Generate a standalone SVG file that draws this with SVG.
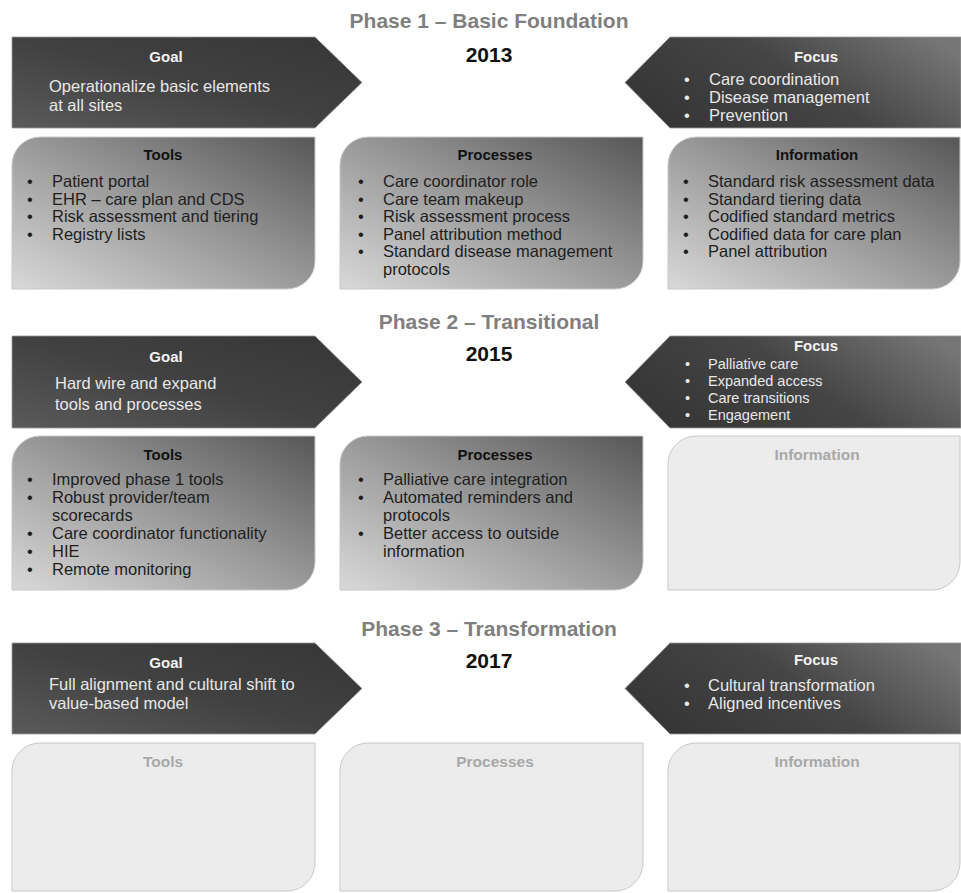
<svg xmlns="http://www.w3.org/2000/svg" width="961" height="893" viewBox="0 0 961 893">
<defs>
<linearGradient id="gGoal" x1="0" y1="1" x2="1" y2="0">
<stop offset="0" stop-color="#5a5a5a"/>
<stop offset="0.5" stop-color="#414141"/>
<stop offset="1" stop-color="#363636"/>
</linearGradient>
<linearGradient id="gFocus" x1="0" y1="0.6" x2="1" y2="0.2">
<stop offset="0" stop-color="#363636"/>
<stop offset="0.5" stop-color="#454545"/>
<stop offset="1" stop-color="#767676"/>
</linearGradient>
<linearGradient id="gBox" x1="1" y1="0" x2="0" y2="1">
<stop offset="0" stop-color="#575757"/>
<stop offset="0.5" stop-color="#9a9a9a"/>
<stop offset="1" stop-color="#d9d9d9"/>
</linearGradient>
<style>
text{font-family:"Liberation Sans",Arial,sans-serif}
.title{font-size:21px;font-weight:bold;fill:#7f7f7f;text-anchor:middle}
.year{font-size:21px;font-weight:bold;fill:#111;text-anchor:middle}
.arrow{stroke:#9a9a9a;stroke-width:0.8}
.goal{fill:url(#gGoal)}
.focus{fill:url(#gFocus)}
.box{fill:url(#gBox);stroke:#c8c8c8;stroke-width:1}
.empty{fill:#ececec;stroke:#c8c8c8;stroke-width:1}
.ah{font-size:15px;font-weight:bold;fill:#f2f2f2;text-anchor:middle}
.at{font-size:16.5px;fill:#e8e8e8}
.at2{font-size:14.5px;fill:#e8e8e8}
.bh{font-size:15px;font-weight:bold;fill:#111;text-anchor:middle}
.bt{font-size:16.5px;fill:#1e1e1e}
.eh{font-size:15.5px;font-weight:bold;fill:#a8a8a8;text-anchor:middle}
</style>
</defs>
<rect width="961" height="893" fill="#ffffff"/>

<!-- Phase 1 -->
<g id="phase1-title">
<text class="title" x="489" y="28">Phase 1 – Basic Foundation</text>
<text class="year" x="489" y="62">2013</text>
</g>
<g id="phase1-goal">
<polygon class="arrow goal" points="12,37 315,37 362,82.5 315,128 12,128"/>
<text class="ah" x="166" y="62">Goal</text>
<text class="at" x="49" y="92">Operationalize basic elements</text>
<text class="at" x="49" y="111">at all sites</text>
</g>
<g id="phase1-focus">
<polygon class="arrow focus" points="625,82.5 670,37 961,37 961,128 670,128"/>
<text class="ah" x="816" y="62">Focus</text>
<text class="at" x="684" y="85">•</text><text class="at" x="709" y="85">Care coordination</text>
<text class="at" x="684" y="103">•</text><text class="at" x="709" y="103">Disease management</text>
<text class="at" x="684" y="121">•</text><text class="at" x="709" y="121">Prevention</text>
</g>
<g id="phase1-tools">
<path class="box" d="M12,165 A28,28 0 0 1 40,137 H315 V261 A28,28 0 0 1 287,289 H12 Z"/>
<text class="bh" x="163" y="160">Tools</text>
<text class="bt" x="27" y="187">•</text><text class="bt" x="52" y="187">Patient portal</text>
<text class="bt" x="27" y="204.5">•</text><text class="bt" x="52" y="204.5">EHR – care plan and CDS</text>
<text class="bt" x="27" y="222">•</text><text class="bt" x="52" y="222">Risk assessment and tiering</text>
<text class="bt" x="27" y="239.5">•</text><text class="bt" x="52" y="239.5">Registry lists</text>
</g>
<g id="phase1-processes">
<path class="box" d="M340,165 A28,28 0 0 1 368,137 H643 V261 A28,28 0 0 1 615,289 H340 Z"/>
<text class="bh" x="495" y="160">Processes</text>
<text class="bt" x="358" y="187">•</text><text class="bt" x="383" y="187">Care coordinator role</text>
<text class="bt" x="358" y="204.5">•</text><text class="bt" x="383" y="204.5">Care team makeup</text>
<text class="bt" x="358" y="222">•</text><text class="bt" x="383" y="222">Risk assessment process</text>
<text class="bt" x="358" y="239.5">•</text><text class="bt" x="383" y="239.5">Panel attribution method</text>
<text class="bt" x="358" y="257">•</text><text class="bt" x="383" y="257">Standard disease management</text>
<text class="bt" x="383" y="274.5">protocols</text>
</g>
<g id="phase1-information">
<path class="box" d="M668,165 A28,28 0 0 1 696,137 H960 V261 A28,28 0 0 1 932,289 H668 Z"/>
<text class="bh" x="817" y="160">Information</text>
<text class="bt" x="683" y="187">•</text><text class="bt" x="708" y="187">Standard risk assessment data</text>
<text class="bt" x="683" y="204.5">•</text><text class="bt" x="708" y="204.5">Standard tiering data</text>
<text class="bt" x="683" y="222">•</text><text class="bt" x="708" y="222">Codified standard metrics</text>
<text class="bt" x="683" y="239.5">•</text><text class="bt" x="708" y="239.5">Codified data for care plan</text>
<text class="bt" x="683" y="257">•</text><text class="bt" x="708" y="257">Panel attribution</text>
</g>

<!-- Phase 2 -->
<g id="phase2-title">
<text class="title" x="489" y="329">Phase 2 – Transitional</text>
<text class="year" x="489" y="361">2015</text>
</g>
<g id="phase2-goal">
<polygon class="arrow goal" points="12,336 315,336 362,382 315,428 12,428"/>
<text class="ah" x="166" y="362">Goal</text>
<text class="at" x="55" y="389">Hard wire and expand</text>
<text class="at" x="55" y="410">tools and processes</text>
</g>
<g id="phase2-focus">
<polygon class="arrow focus" points="625,382 670,336 961,336 961,428 670,428"/>
<text class="ah" x="816" y="351">Focus</text>
<text class="at2" x="685" y="369">•</text><text class="at2" x="708" y="369">Palliative care</text>
<text class="at2" x="685" y="386">•</text><text class="at2" x="708" y="386">Expanded access</text>
<text class="at2" x="685" y="403">•</text><text class="at2" x="708" y="403">Care transitions</text>
<text class="at2" x="685" y="420">•</text><text class="at2" x="708" y="420">Engagement</text>
</g>
<g id="phase2-tools">
<path class="box" d="M12,464 A28,28 0 0 1 40,436 H315 V562 A28,28 0 0 1 287,590 H12 Z"/>
<text class="bh" x="163" y="460">Tools</text>
<text class="bt" x="27" y="485">•</text><text class="bt" x="52" y="485">Improved phase 1 tools</text>
<text class="bt" x="27" y="503">•</text><text class="bt" x="52" y="503">Robust provider/team</text>
<text class="bt" x="52" y="521">scorecards</text>
<text class="bt" x="27" y="539">•</text><text class="bt" x="52" y="539">Care coordinator functionality</text>
<text class="bt" x="27" y="557">•</text><text class="bt" x="52" y="557">HIE</text>
<text class="bt" x="27" y="575">•</text><text class="bt" x="52" y="575">Remote monitoring</text>
</g>
<g id="phase2-processes">
<path class="box" d="M340,464 A28,28 0 0 1 368,436 H643 V562 A28,28 0 0 1 615,590 H340 Z"/>
<text class="bh" x="495" y="460">Processes</text>
<text class="bt" x="358" y="485">•</text><text class="bt" x="383" y="485">Palliative care integration</text>
<text class="bt" x="358" y="503">•</text><text class="bt" x="383" y="503">Automated reminders and</text>
<text class="bt" x="383" y="521">protocols</text>
<text class="bt" x="358" y="539">•</text><text class="bt" x="383" y="539">Better access to outside</text>
<text class="bt" x="383" y="557">information</text>
</g>
<g id="phase2-information">
<path class="empty" d="M668,464 A28,28 0 0 1 696,436 H960 V562 A28,28 0 0 1 932,590 H668 Z"/>
<text class="eh" x="817" y="460">Information</text>
</g>

<!-- Phase 3 -->
<g id="phase3-title">
<text class="title" x="489" y="636">Phase 3 – Transformation</text>
<text class="year" x="489" y="668">2017</text>
</g>
<g id="phase3-goal">
<polygon class="arrow goal" points="12,643 315,643 362,688.5 315,734 12,734"/>
<text class="ah" x="166" y="668">Goal</text>
<text class="at" x="49" y="690">Full alignment and cultural shift to</text>
<text class="at" x="49" y="709">value-based model</text>
</g>
<g id="phase3-focus">
<polygon class="arrow focus" points="625,688.5 670,643 961,643 961,734 670,734"/>
<text class="ah" x="816" y="665">Focus</text>
<text class="at" x="684" y="691">•</text><text class="at" x="708" y="691">Cultural transformation</text>
<text class="at" x="684" y="709">•</text><text class="at" x="708" y="709">Aligned incentives</text>
</g>
<g id="phase3-tools">
<path class="empty" d="M12,771 A28,28 0 0 1 40,743 H315 V863 A28,28 0 0 1 287,891 H12 Z"/>
<text class="eh" x="163" y="767">Tools</text>
</g>
<g id="phase3-processes">
<path class="empty" d="M340,771 A28,28 0 0 1 368,743 H643 V863 A28,28 0 0 1 615,891 H340 Z"/>
<text class="eh" x="495" y="767">Processes</text>
</g>
<g id="phase3-information">
<path class="empty" d="M668,771 A28,28 0 0 1 696,743 H960 V863 A28,28 0 0 1 932,891 H668 Z"/>
<text class="eh" x="817" y="767">Information</text>
</g>
</svg>
